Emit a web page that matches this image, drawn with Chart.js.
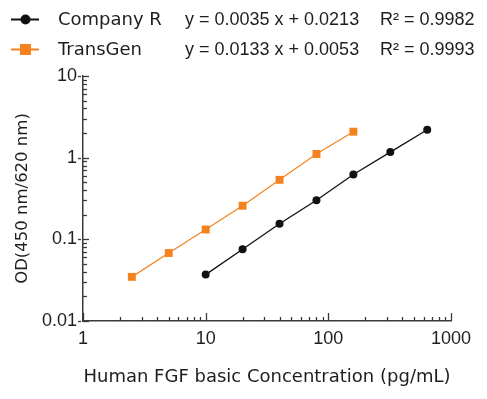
<!DOCTYPE html>
<html><head><meta charset="utf-8">
<script src="https://cdn.jsdelivr.net/npm/chart.js@4"></script>
<style>html,body{margin:0;padding:0;background:#fff;}#wrap{width:487px;height:399px;}</style>
</head><body><div id="wrap"><canvas id="c" width="487" height="399"></canvas></div>
<script>
const seriesNames = ['Company R', 'TransGen'];
const equations = ['y = 0.0035 x + 0.0213', 'y = 0.0133 x + 0.0053'];
const r2Labels = ['R\u00B2 = 0.9982', 'R\u00B2 = 0.9993'];
const concCompanyR = [10, 20, 40, 80, 160, 320, 640];
const odCompanyR = [0.037, 0.0755, 0.155, 0.301, 0.621, 1.17, 2.2];
const concTransGen = [2.5, 5, 10, 20, 40, 80, 160];
const odTransGen = [0.0347, 0.068, 0.132, 0.258, 0.535, 1.11, 2.08];
const xTickLabels = ['1', '10', '100', '1000'];
const yTickLabels = ['0.01', '0.1', '1', '10'];
const xTitle = 'Human FGF basic Concentration (pg/mL)';
const yTitle = 'OD(450 nm/620 nm)';

const FONT = "'Liberation Sans', Arial, sans-serif";
const WFONT = "'DejaVu Sans', sans-serif";
const AXIS = '#3a3a3a';
const TEXT = '#1e1e1e';
const BLACK = '#111111';
const ORANGE = '#F5821F';

function isDecade(v) {
  const l = Math.log10(v);
  return Math.abs(l - Math.round(l)) < 1e-6;
}
function fmt(v, labels) {
  for (const s of labels) { if (Math.abs(parseFloat(s) - v) < 1e-9 * Math.max(1, v)) return s; }
  return '';
}

const tickPlugin = {
  id: 'innerTicks',
  afterDraw(chart) {
    const ctx = chart.ctx;
    const xs = chart.scales.x, ys = chart.scales.y;
    const area = chart.chartArea;
    ctx.save();
    ctx.strokeStyle = AXIS;
    ctx.lineWidth = 1.3;
    for (let d = 1; d <= 1000; d *= 10) {
      for (let m = 1; m <= 9; m++) {
        const v = m * d;
        if (v > 1000) break;
        const px = Math.round(xs.getPixelForValue(v)) + 0.5;
        const len = (m === 1) ? 8 : 4;
        ctx.beginPath(); ctx.moveTo(px, area.bottom); ctx.lineTo(px, area.bottom - len); ctx.stroke();
      }
    }
    for (let d = 0.01; d <= 10.0001; d *= 10) {
      for (let m = 1; m <= 9; m++) {
        const v = m * d;
        if (v > 10.0001) break;
        const py = Math.round(ys.getPixelForValue(v)) + 0.5;
        const len = (m === 1) ? 6 : 4;
        ctx.beginPath(); ctx.moveTo(area.left, py); ctx.lineTo(area.left + len, py); ctx.stroke();
        if (m === 1) {
          ctx.beginPath(); ctx.moveTo(area.left - 5, py); ctx.lineTo(area.left - 2, py); ctx.stroke();
        }
      }
    }
    ctx.restore();

    ctx.save();
    const rows = [19.5, 49.5];
    const colors = [BLACK, ORANGE];
    ctx.textBaseline = 'middle';
    ctx.textAlign = 'left';
    for (let i = 0; i < 2; i++) {
      const y = rows[i];
      ctx.strokeStyle = colors[i];
      ctx.fillStyle = colors[i];
      ctx.lineWidth = 2;
      ctx.beginPath(); ctx.moveTo(11, y); ctx.lineTo(39, y); ctx.stroke();
      if (i === 0) { ctx.beginPath(); ctx.arc(25.5, y, 5, 0, Math.PI * 2); ctx.fill(); }
      else { ctx.fillRect(20, y - 5.5, 11, 11); }
      ctx.fillStyle = TEXT;
      ctx.font = '18px ' + WFONT;
      ctx.fillText(seriesNames[i], 58, y + 1);
      ctx.font = '18px ' + FONT;
      ctx.fillText(equations[i], 185, y + 1);
      ctx.fillText(r2Labels[i], 380, y + 1);
    }
    ctx.restore();
  }
};

const ctx = document.getElementById('c').getContext('2d');
new Chart(ctx, {
  type: 'scatter',
  data: {
    datasets: [
      {
        label: seriesNames[0],
        data: concCompanyR.map((x, i) => ({ x: x, y: odCompanyR[i] })),
        showLine: true,
        borderColor: BLACK,
        backgroundColor: BLACK,
        borderWidth: 1.3,
        pointStyle: 'circle',
        pointRadius: 4,
        pointBorderWidth: 0,
        pointBackgroundColor: BLACK
      },
      {
        label: seriesNames[1],
        data: concTransGen.map((x, i) => ({ x: x, y: odTransGen[i] })),
        showLine: true,
        borderColor: ORANGE,
        backgroundColor: ORANGE,
        borderWidth: 1.2,
        pointStyle: 'rect',
        pointRadius: 5.6,
        pointBorderWidth: 0,
        pointBackgroundColor: ORANGE
      }
    ]
  },
  options: {
    responsive: false,
    animation: false,
    devicePixelRatio: 1,
    layout: { padding: { top: 76, right: 36, left: 0, bottom: 0 } },
    plugins: { legend: { display: false }, tooltip: { enabled: false } },
    scales: {
      x: {
        type: 'logarithmic',
        position: 'bottom',
        min: 1, max: 1000,
        grid: { display: false, drawTicks: false },
        border: { display: true, color: AXIS, width: 1.5 },
        ticks: {
          autoSkip: false, maxRotation: 0, padding: 7,
          color: TEXT, font: { family: FONT, size: 18 },
          callback: (v) => isDecade(v) ? fmt(v, xTickLabels) : ''
        },
        title: { display: true, text: xTitle, color: TEXT, font: { family: WFONT, size: 18 }, padding: { top: 0, bottom: 11 } },
        afterFit: (s) => { s.height = 78; }
      },
      y: {
        type: 'logarithmic',
        position: 'left',
        min: 0.01, max: 10,
        grid: { display: false, drawTicks: false },
        border: { display: true, color: AXIS, width: 1.5 },
        ticks: {
          autoSkip: false, padding: 6,
          color: TEXT, font: { family: FONT, size: 18 },
          callback: (v) => isDecade(v) ? fmt(v, yTickLabels) : ''
        },
        title: { display: true, text: yTitle, color: TEXT, font: { family: WFONT, size: 16.5 }, padding: { top: 13, bottom: 0 } },
        afterFit: (s) => { s.width = 83; }
      }
    }
  },
  plugins: [tickPlugin]
});
</script>
</body></html>
